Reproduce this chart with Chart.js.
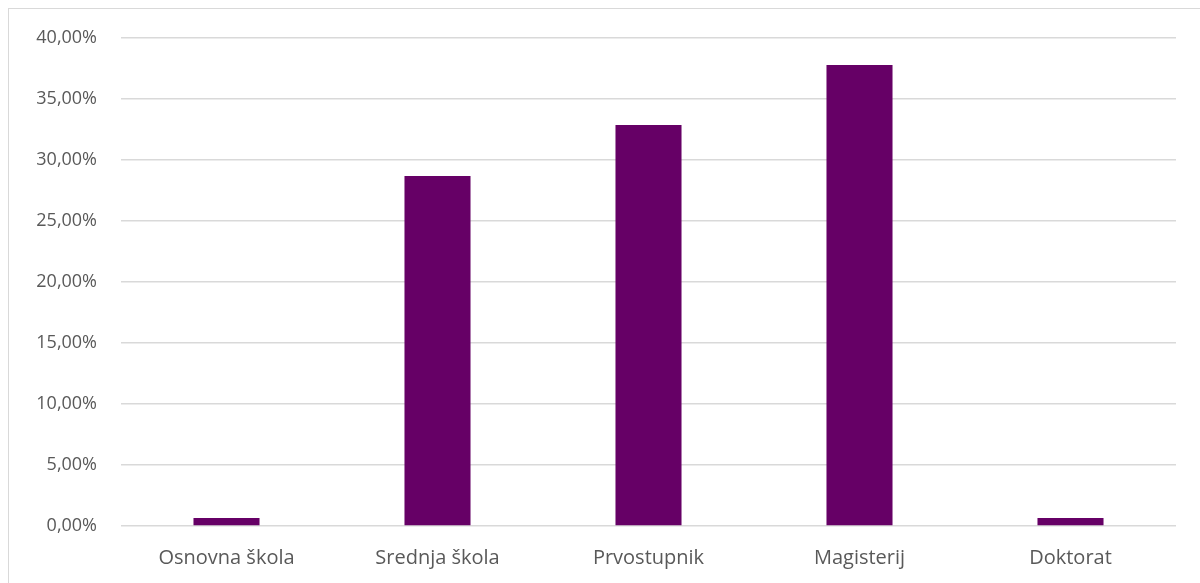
<!DOCTYPE html>
<html>
<head>
<meta charset="utf-8">
<script src="https://cdn.jsdelivr.net/npm/chart.js@4"></script>
<style>
  html, body { margin: 0; padding: 0; background: #fff; }
  #wrap { position: relative; width: 1200px; height: 583px; overflow: hidden; }
  #frame { position: absolute; left: 8px; top: 8px; width: 1200px; height: 600px; border: 1px solid #d9d9d9; }
  #c { position: absolute; left: 0; top: 0; }
</style>
</head>
<body>
<div id="wrap">
  <div id="frame"></div>
  <canvas id="c" width="1200" height="583"></canvas>
</div>
<script>
// ── Data ──────────────────────────────────────────────
const categories = ['Osnovna škola', 'Srednja škola', 'Prvostupnik', 'Magisterij', 'Doktorat'];
const shares = [0.66, 28.69, 32.87, 37.79, 0.66];
const yMax = 40;
const yStep = 5;

const FONT = "'Open Sans', 'Noto Sans', sans-serif";
const TEXT = '#595959';
const GRID = '#d9d9d9';
const BAR = '#660066';

const fmt = v => v.toFixed(2).replace('.', ',') + '%';

new Chart(document.getElementById('c').getContext('2d'), {
  type: 'bar',
  data: {
    labels: categories,
    datasets: [{
      data: shares,
      backgroundColor: BAR,
      borderWidth: 0,
      categoryPercentage: 1,
      barPercentage: 0.313,
    }],
  },
  options: {
    responsive: false,
    animation: false,
    layout: { padding: { top: 38, right: 24, left: 0, bottom: 0 } },
    plugins: { legend: { display: false }, tooltip: { enabled: false } },
    scales: {
      x: {
        grid: { display: false },
        border: { display: false },
        ticks: { color: TEXT, font: { family: FONT, size: 20 }, padding: 12 },
        afterFit: s => { s.height = 57; },
      },
      y: {
        min: 0,
        max: yMax,
        grid: { color: GRID, lineWidth: 1.5, drawTicks: false },
        border: { display: false },
        ticks: {
          stepSize: yStep,
          color: TEXT,
          font: { family: FONT, size: 18 },
          padding: 24,
          callback: v => fmt(v),
        },
        afterFit: s => { s.width = 121; },
      },
    },
  },
});
</script>
</body>
</html>
